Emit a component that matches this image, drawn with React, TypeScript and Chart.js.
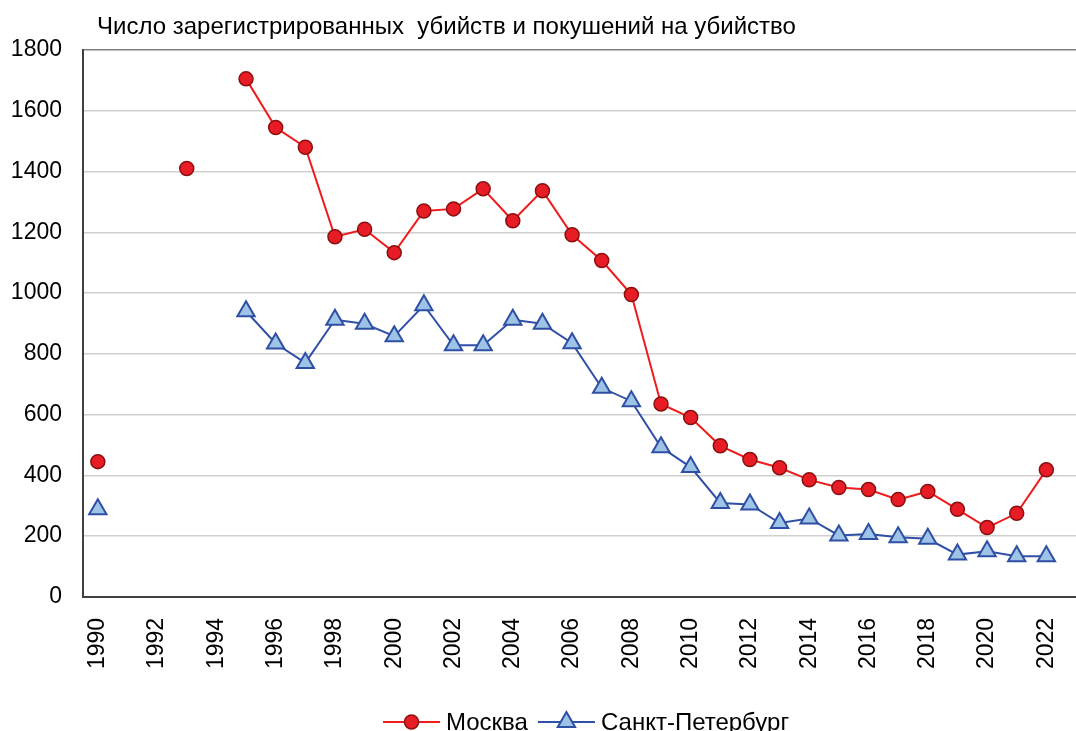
import React, { useEffect, useRef } from "react";
import { Chart, registerables } from "chart.js";

Chart.register(...registerables);

const years = [
  1990, 1991, 1992, 1993, 1994, 1995, 1996, 1997, 1998, 1999, 2000, 2001, 2002,
  2003, 2004, 2005, 2006, 2007, 2008, 2009, 2010, 2011, 2012, 2013, 2014, 2015,
  2016, 2017, 2018, 2019, 2020, 2021, 2022,
];

const moscow: (number | null)[] = [
  445, null, null, 1410, null, 1705, 1545, 1480, 1185, 1210, 1133, 1270, 1277,
  1343, 1238, 1337, 1192, 1107, 995, 635, 590, 497, 452, 425, 385, 360, 353,
  320, 347, 288, 228, 275, 418,
];

const spb: (number | null)[] = [
  288, null, null, null, null, 940, 834, 770, 912, 899, 858, 960, 828, 828, 912,
  899, 835, 688, 644, 492, 427, 309, 304, 243, 258, 202, 207, 196, 191, 139,
  150, 134, 134,
];

const xTicks = [
  1990, 1992, 1994, 1996, 1998, 2000, 2002, 2004, 2006, 2008, 2010, 2012, 2014,
  2016, 2018, 2020, 2022,
];

const yTicks = [0, 200, 400, 600, 800, 1000, 1200, 1400, 1600, 1800];

const titleText = "Число зарегистрированных  убийств и покушений на убийство";
const seriesNames = ["Москва", "Санкт-Петербург"];

const FONT = "'Liberation Sans', Arial, sans-serif";

export default function App() {
  const ref = useRef<HTMLCanvasElement | null>(null);

  useEffect(() => {
    if (!ref.current) return;

    const titleLegendPlugin = {
      id: "titleLegend",
      afterDraw(chart: any) {
        const ctx = chart.ctx;
        const area = chart.chartArea;
        ctx.save();
        // title
        ctx.fillStyle = "#000";
        ctx.font = `24px ${FONT}`;
        ctx.textAlign = "left";
        ctx.textBaseline = "alphabetic";
        ctx.fillText(titleText, area.left + 14, 34);

        // legend
        const y = 722;
        ctx.font = `24px ${FONT}`;
        ctx.textBaseline = "middle";
        let x = 383;
        chart.data.datasets.forEach((ds: any) => {
          ctx.strokeStyle = ds.borderColor;
          ctx.lineWidth = 2;
          ctx.beginPath();
          ctx.moveTo(x, y);
          ctx.lineTo(x + 57, y);
          ctx.stroke();
          const cx = x + 28.5;
          ctx.fillStyle = ds.pointBackgroundColor;
          ctx.strokeStyle = ds.pointBorderColor;
          ctx.lineWidth = ds.pointBorderWidth;
          ctx.beginPath();
          if (ds.pointStyle === "triangle") {
            const r = ds.pointRadius;
            ctx.moveTo(cx, y - r);
            ctx.lineTo(cx + r * 0.866, y + r * 0.5);
            ctx.lineTo(cx - r * 0.866, y + r * 0.5);
            ctx.closePath();
          } else {
            ctx.arc(cx, y, ds.pointRadius, 0, Math.PI * 2);
          }
          ctx.fill();
          ctx.stroke();
          ctx.fillStyle = "#000";
          ctx.fillText(ds.label, x + 63, y + 1);
          x += 63 + ctx.measureText(ds.label).width + 10;
        });
        ctx.restore();
      },
    };

    const chart = new Chart(ref.current, {
      type: "line",
      data: {
        datasets: [
          {
            label: seriesNames[0],
            data: years.map((yr, i) => ({ x: yr, y: moscow[i] })) as any,
            borderColor: "#F01C1C",
            borderWidth: 2,
            pointStyle: "circle",
            pointRadius: 7,
            pointBackgroundColor: "#E81C24",
            pointBorderColor: "#8A1010",
            pointBorderWidth: 1.5,
            spanGaps: false,
            tension: 0,
          },
          {
            label: seriesNames[1],
            data: years.map((yr, i) => ({ x: yr, y: spb[i] })) as any,
            borderColor: "#3050A8",
            borderWidth: 2,
            pointStyle: "triangle",
            pointRadius: 10,
            pointBackgroundColor: "#9DC3E6",
            pointBorderColor: "#2F4FA5",
            pointBorderWidth: 2,
            spanGaps: false,
            tension: 0,
          },
        ],
      },
      options: {
        responsive: false,
        animation: false,
        layout: { autoPadding: false, padding: { left: 10, right: 0, top: 50, bottom: 41 } },
        plugins: {
          legend: { display: false },
          title: { display: false },
          tooltip: { enabled: false },
        },
        scales: {
          x: {
            type: "linear",
            min: 1989.5,
            max: 2023,
            afterBuildTicks: (scale: any) => {
              scale.ticks = xTicks.map((v) => ({ value: v }));
            },
            afterFit: (scale: any) => {
              scale.paddingLeft = 0;
              scale.paddingRight = 0;
            },
            grid: { display: false, drawTicks: false },
            border: { display: true, color: "#404040", width: 2 },
            ticks: {
              color: "#000",
              font: { family: FONT, size: 23 },
              minRotation: 90,
              maxRotation: 90,
              padding: 21,
              autoSkip: false,
              callback: (v: any) => String(v),
            },
          },
          y: {
            type: "linear",
            min: 0,
            max: 1800,
            afterBuildTicks: (scale: any) => {
              scale.ticks = yTicks.map((v) => ({ value: v }));
            },
            afterFit: (scale: any) => {
              scale.width = 73;
              scale.paddingTop = 0;
              scale.paddingBottom = 0;
            },
            grid: {
              drawTicks: false,
              color: (c: any) => (c.tick && c.tick.value === 1800 ? "#7F7F7F" : "#CFCFCF"),
              lineWidth: 1.5,
            },
            border: { display: true, color: "#404040", width: 2 },
            ticks: {
              color: "#000",
              font: { family: FONT, size: 23 },
              padding: 21,
              callback: (v: any) => String(v),
            },
          },
        },
      },
      plugins: [titleLegendPlugin],
    });

    return () => chart.destroy();
  }, []);

  return (
    <div style={{ position: "fixed", left: 0, top: 0, width: 1076, height: 731, background: "#fff" }}>
      <canvas ref={ref} width={1076} height={731} style={{ width: 1076, height: 731, display: "block" }} />
    </div>
  );
}
